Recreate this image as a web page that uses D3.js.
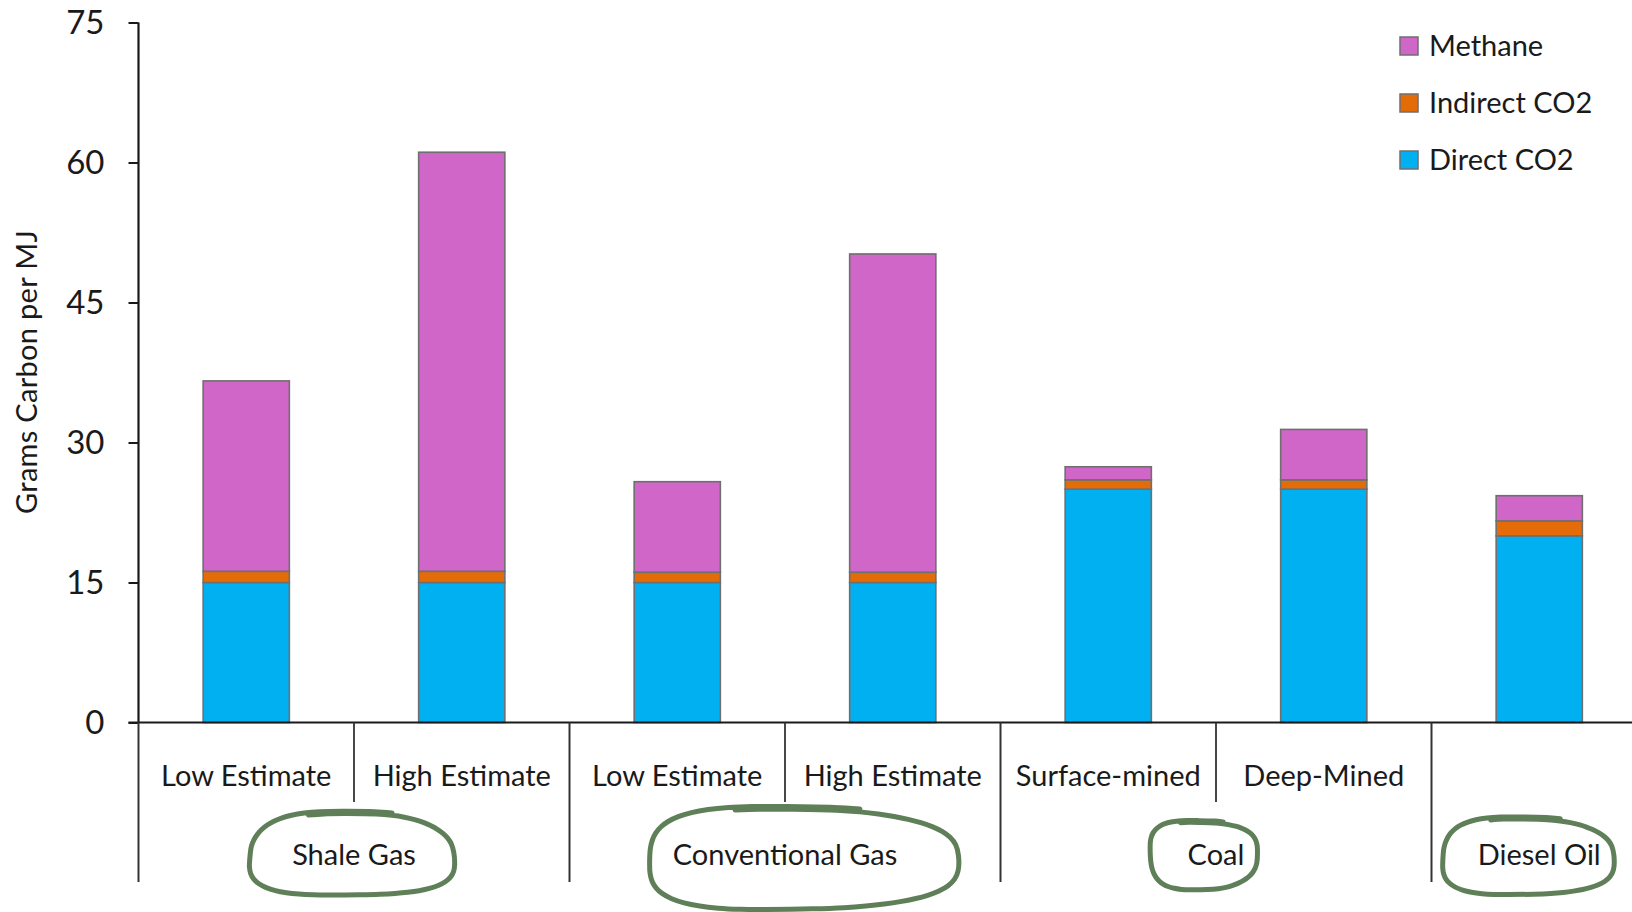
<!DOCTYPE html>
<html>
<head>
<meta charset="utf-8">
<script src="https://cdn.jsdelivr.net/npm/d3@7"></script>
<style>
	body { margin: 0; background: #fff; }
	svg { display: block; font-family: Lato, "Open Sans", sans-serif; }
</style>
</head>
<body>
<div id="chart"></div>
<script>
// chart data
const categories = ["Low Estimate", "High Estimate", "Low Estimate ", "High Estimate ", "Surface-mined", "Deep-Mined", "Diesel"];
const categoryLabels = ["Low Estimate", "High Estimate", "Low Estimate", "High Estimate", "Surface-mined", "Deep-Mined", ""];
const groups = ["Shale Gas", "Conventional Gas", "Coal", "Diesel Oil"];
const groupSpans = [[0, 2], [2, 4], [4, 6], [6, 7]];
const seriesNames = ["Direct CO2", "Indirect CO2", "Methane"];
const directCO2 = [15, 15, 15, 15, 25, 25, 20];
const indirectCO2 = [1.2, 1.2, 1.1, 1.1, 1.0, 1.0, 1.6];
const methane = [20.4, 44.9, 9.7, 34.1, 1.4, 5.4, 2.7];
const yTicks = [0, 15, 30, 45, 60, 75];
const colors = { "Direct CO2": "#00b0f0", "Indirect CO2": "#e36c09", "Methane": "#d066c8" };

const width = 1632, height = 912;
const left = 138.5, step = 215.5;

const svg = d3.select("#chart").append("svg")
	.attr("width", width)
	.attr("height", height);

// scales
const x = d3.scaleBand()
	.domain(categories)
	.range([left, left + step * categories.length])
	.paddingInner(0.6)
	.paddingOuter(0.3);

const y = d3.scaleLinear()
	.domain([0, 75])
	.range([722.5, 22.5]);

// stacked data
const rows = categories.map((c, i) => ({
	cat: c,
	"Direct CO2": directCO2[i],
	"Indirect CO2": indirectCO2[i],
	"Methane": methane[i],
}));
const stacked = d3.stack().keys(seriesNames)(rows);

// bars
svg.append("g")
	.selectAll("g")
	.data(stacked)
	.join("g")
	.attr("fill", d => colors[d.key])
	.selectAll("rect")
	.data(d => d)
	.join("rect")
	.attr("x", d => x(d.data.cat))
	.attr("width", x.bandwidth())
	.attr("y", d => y(d[1]))
	.attr("height", d => y(d[0]) - y(d[1]))
	.attr("stroke", "#6f6f6f")
	.attr("stroke-width", 1.6);

// y axis
const yAxis = svg.append("g")
	.attr("transform", `translate(${left},0)`)
	.call(d3.axisLeft(y).tickValues(yTicks).tickSize(10).tickPadding(24));
yAxis.select(".domain").attr("stroke", "#1a1a1a").attr("stroke-width", 2.2)
	.attr("d", `M0,${y(75)}V${y(0)}`);
yAxis.selectAll(".tick line").attr("stroke", "#1a1a1a").attr("stroke-width", 2);
yAxis.selectAll(".tick text")
	.attr("fill", "#1a1a1a")
	.style("font-size", "33px")
	.style("font-family", "Lato, sans-serif");

// y title
svg.append("text")
	.attr("transform", `translate(37, 372) rotate(-90)`)
	.attr("text-anchor", "middle")
	.attr("fill", "#1a1a1a")
	.style("font-size", "29px")
	.style("letter-spacing", "0.3px")
	.text("Grams Carbon per MJ");

// x axis baseline
svg.append("line")
	.attr("x1", left - 10).attr("x2", width)
	.attr("y1", y(0)).attr("y2", y(0))
	.attr("stroke", "#1a1a1a").attr("stroke-width", 2.2);

// separators below axis
const groupStarts = new Set(groupSpans.map(s => s[0]));
const sepIdx = d3.range(categories.length);
svg.append("g")
	.selectAll("line")
	.data(sepIdx)
	.join("line")
	.attr("x1", i => x(categories[i]) - x.step() * 0.3)
	.attr("x2", i => x(categories[i]) - x.step() * 0.3)
	.attr("y1", y(0))
	.attr("y2", i => groupStarts.has(i) ? 882 : 802)
	.attr("stroke", "#333")
	.attr("stroke-width", i => groupStarts.has(i) ? 2 : 1.8);

// category labels
svg.append("g")
	.selectAll("text")
	.data(categories)
	.join("text")
	.attr("x", c => x(c) + x.bandwidth() / 2)
	.attr("y", 786)
	.attr("text-anchor", "middle")
	.attr("fill", "#1a1a1a")
	.style("font-size", "29px")
	.text((c, i) => categoryLabels[i]);

// group labels
const groupCenter = s => x(categories[s[0]]) - x.step() * 0.3 + x.step() * (s[1] - s[0]) / 2;
svg.append("g")
	.selectAll("text")
	.data(groups)
	.join("text")
	.attr("x", (g, i) => groupCenter(groupSpans[i]))
	.attr("y", 865)
	.attr("text-anchor", "middle")
	.attr("fill", "#1a1a1a")
	.style("font-size", "29px")
	.text(g => g);

// hand drawn circles round the group labels
const loops = [
	{ dx: -2, cy: 855, rx: 99, ry: 40, phase: 0.4 },
	{ dx: 16, cy: 859, rx: 150, ry: 49, phase: 1.3 },
	{ dx: -13, cy: 855, rx: 52, ry: 33, phase: 2.1 },
	{ dx: -12, cy: 857, rx: 83, ry: 37, phase: 0.9 },
];
const loopLine = d3.line().curve(d3.curveCatmullRom.alpha(0.5));
svg.append("g")
	.selectAll("path")
	.data(loops)
	.join("path")
	.attr("d", (l, i) => {
		const cx = groupCenter(groupSpans[i]) + l.dx;
		const n = 48;
		const pts = d3.range(0, n + 1).map(k => {
			const t = -Math.PI / 2 - 0.3 + k * (2 * Math.PI + 0.55) / n;
			const c = Math.cos(t), s = Math.sin(t);
			// drift outwards a little so the end overlaps the start like a pen stroke
			const wob = (1 + 0.035 * Math.sin(3 * t + l.phase)) * (1 + 0.06 * k / n);
			return [
				cx + l.rx * wob * Math.sign(c) * Math.pow(Math.abs(c), 0.7),
				l.cy + l.ry * wob * Math.sign(s) * Math.pow(Math.abs(s), 0.7),
			];
		});
		return loopLine(pts);
	})
	.attr("fill", "none")
	.attr("stroke", "#5f7f59")
	.attr("stroke-width", 5)
	.attr("stroke-linecap", "round")
	.attr("stroke-linejoin", "round");

// legend
const legendKeys = ["Methane", "Indirect CO2", "Direct CO2"];
const legend = svg.append("g")
	.selectAll("g")
	.data(legendKeys)
	.join("g")
	.attr("transform", (k, i) => `translate(1400, ${37 + i * 57})`);
legend.append("rect")
	.attr("width", 18).attr("height", 18)
	.attr("fill", k => colors[k])
	.attr("stroke", "#6f6f6f").attr("stroke-width", 1.5);
legend.append("text")
	.attr("x", 29).attr("y", 19)
	.attr("fill", "#1a1a1a")
	.style("font-size", "29px")
	.text(k => k);
</script>
</body>
</html>
